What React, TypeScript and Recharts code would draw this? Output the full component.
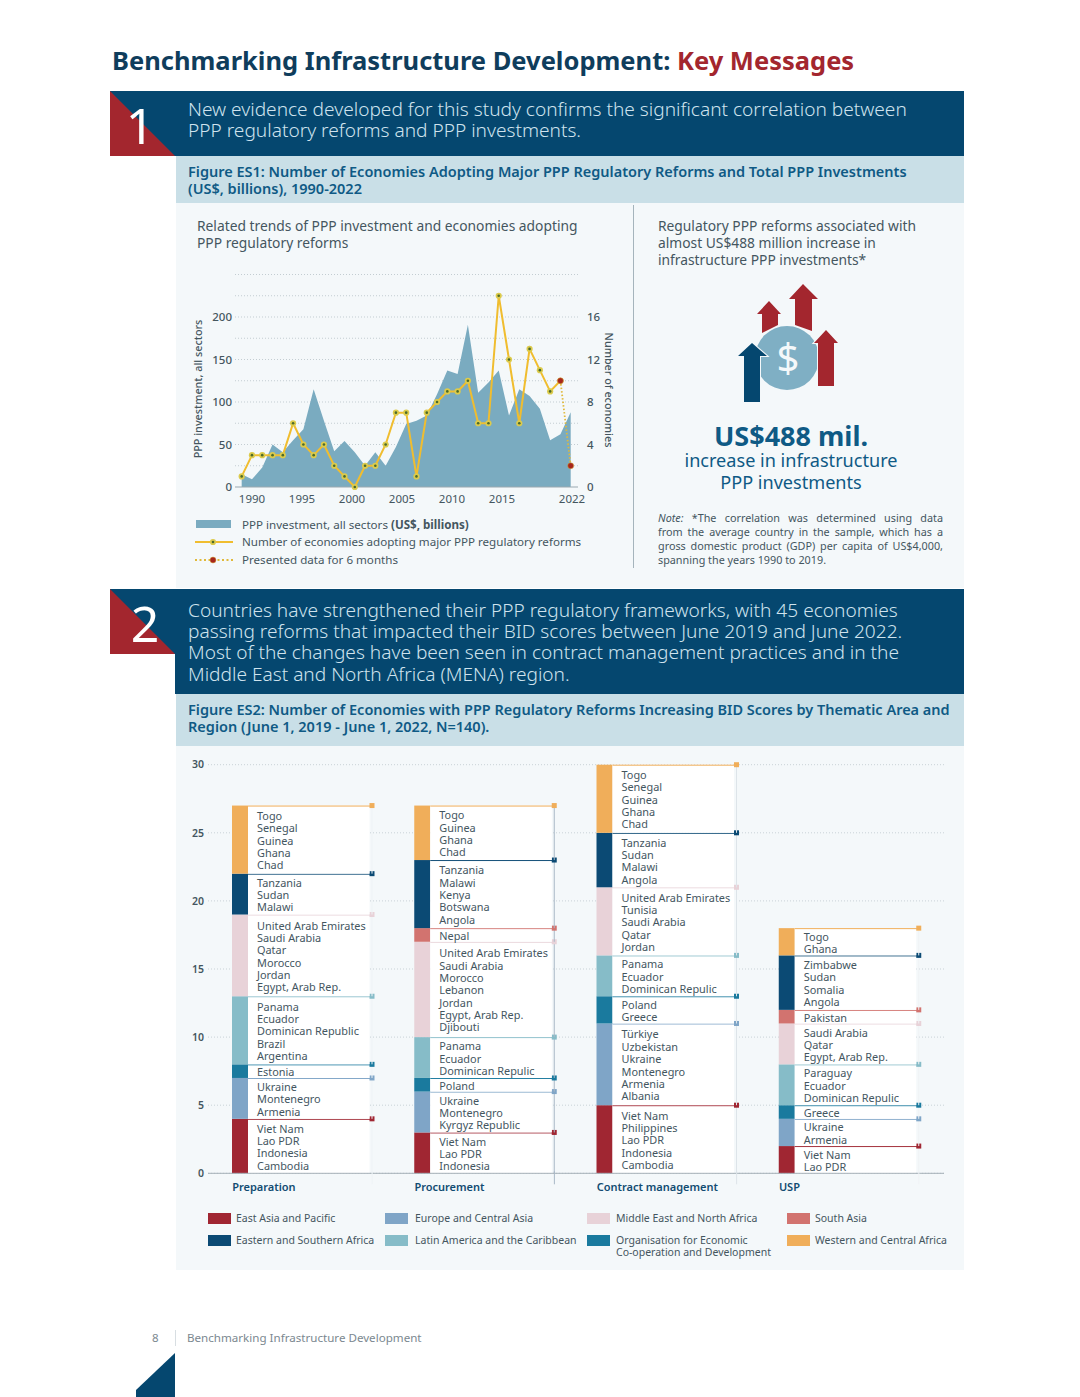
import React from 'react';
import {
  ComposedChart,
  BarChart,
  Area,
  Line,
  Bar,
  XAxis,
  YAxis,
  CartesianGrid,
} from 'recharts';

const FONT = '"Noto Sans", sans-serif';
const NAVY = '#05476f';
const RED = '#a3262e';
const TEXT = '#44565f';

// Figure ES1
const years = [
  1990, 1991, 1992, 1993, 1994, 1995, 1996, 1997, 1998, 1999, 2000, 2001, 2002, 2003, 2004, 2005, 2006,
  2007, 2008, 2009, 2010, 2011, 2012, 2013, 2014, 2015, 2016, 2017, 2018, 2019, 2020, 2021, 2022,
];
const investment = [
  15, 9, 23, 50, 41, 55, 68, 115, 78, 42, 54, 41, 25, 41, 25, 47, 74, 78, 84, 109, 137, 133, 191, 111,
  123, 137, 84, 115, 107, 92, 55, 62, 88,
];
const reforms = [
  1, 3, 3, 3, 3, 6, 4, 3, 4, 2, 1, 0, 2, 2, 4, 7, 7, 1, 7, 8, 9, 9, 10, 6, 6, 18, 12, 6, 13, 11, 9, 10,
  null,
];
const partialYear = [
  null, null, null, null, null, null, null, null, null, null, null, null, null, null, null, null, null,
  null, null, null, null, null, null, null, null, null, null, null, null, null, null, 10, 2,
];
const yearTicks = [1990, 1995, 2000, 2005, 2010, 2015, 2022];
const investmentTicks = [0, 50, 100, 150, 200];
const reformTicks = [0, 4, 8, 12, 16];
const gridValues = [25, 50, 75, 100, 125, 150, 175, 200, 225, 250];

const es1Data = years.map((year, i) => ({
  year,
  investment: investment[i],
  reforms: reforms[i],
  partialYear: partialYear[i],
}));

// Figure ES2, stages left to right
const stages = ['Preparation', 'Procurement', 'Contract management', 'USP'];
const stageTicks = [0, 5, 10, 15, 20, 25, 30];
const eastAsia = [4, 3, 5, 2];
const europe = [3, 3, 6, 2];
const oecd = [1, 1, 2, 1];
const latinAmerica = [5, 3, 3, 3];
const middleEast = [6, 7, 5, 3];
const southAsia = [0, 1, 0, 1];
const easternAfrica = [3, 5, 4, 4];
const westernAfrica = [5, 4, 5, 2];

const eastAsiaNames = [
  ['Viet Nam', 'Lao PDR', 'Indonesia', 'Cambodia'],
  ['Viet Nam', 'Lao PDR', 'Indonesia'],
  ['Viet Nam', 'Philippines', 'Lao PDR', 'Indonesia', 'Cambodia'],
  ['Viet Nam', 'Lao PDR'],
];
const europeNames = [
  ['Ukraine', 'Montenegro', 'Armenia'],
  ['Ukraine', 'Montenegro', 'Kyrgyz Republic'],
  ['Türkiye', 'Uzbekistan', 'Ukraine', 'Montenegro', 'Armenia', 'Albania'],
  ['Ukraine', 'Armenia'],
];
const oecdNames = [['Estonia'], ['Poland'], ['Poland', 'Greece'], ['Greece']];
const latinAmericaNames = [
  ['Panama', 'Ecuador', 'Dominican Republic', 'Brazil', 'Argentina'],
  ['Panama', 'Ecuador', 'Dominican Repulic'],
  ['Panama', 'Ecuador', 'Dominican Repulic'],
  ['Paraguay', 'Ecuador', 'Dominican Repulic'],
];
const middleEastNames = [
  ['United Arab Emirates', 'Saudi Arabia', 'Qatar', 'Morocco', 'Jordan', 'Egypt, Arab Rep.'],
  ['United Arab Emirates', 'Saudi Arabia', 'Morocco', 'Lebanon', 'Jordan', 'Egypt, Arab Rep.', 'Djibouti'],
  ['United Arab Emirates', 'Tunisia', 'Saudi Arabia', 'Qatar', 'Jordan'],
  ['Saudi Arabia', 'Qatar', 'Egypt, Arab Rep.'],
];
const southAsiaNames = [[], ['Nepal'], [], ['Pakistan']];
const easternAfricaNames = [
  ['Tanzania', 'Sudan', 'Malawi'],
  ['Tanzania', 'Malawi', 'Kenya', 'Botswana', 'Angola'],
  ['Tanzania', 'Sudan', 'Malawi', 'Angola'],
  ['Zimbabwe', 'Sudan', 'Somalia', 'Angola'],
];
const westernAfricaNames = [
  ['Togo', 'Senegal', 'Guinea', 'Ghana', 'Chad'],
  ['Togo', 'Guinea', 'Ghana', 'Chad'],
  ['Togo', 'Senegal', 'Guinea', 'Ghana', 'Chad'],
  ['Togo', 'Ghana'],
];

const es2Data = stages.map((stage, i) => ({
  stage,
  eastAsia: eastAsia[i],
  europe: europe[i],
  oecd: oecd[i],
  latinAmerica: latinAmerica[i],
  middleEast: middleEast[i],
  southAsia: southAsia[i],
  easternAfrica: easternAfrica[i],
  westernAfrica: westernAfrica[i],
}));

const regions = [
  { key: 'eastAsia', color: '#a02632', names: eastAsiaNames },
  { key: 'europe', color: '#7fa5c7', names: europeNames },
  { key: 'oecd', color: '#1a7a9e', names: oecdNames },
  { key: 'latinAmerica', color: '#86bcc8', names: latinAmericaNames },
  { key: 'middleEast', color: '#e8d2d8', names: middleEastNames },
  { key: 'southAsia', color: '#d2736f', names: southAsiaNames },
  { key: 'easternAfrica', color: '#0b4a74', names: easternAfricaNames },
  { key: 'westernAfrica', color: '#f0ae5a', names: westernAfricaNames },
];

const stageRules = ['#eef3f6', '#a9b8c6', '#dde4e9', '#f0f3f5'];

const legendItems = [
  { label: ['East Asia and Pacific'], color: '#a02632', x: 208, y: 1218, tx: 236 },
  { label: ['Europe and Central Asia'], color: '#7fa5c7', x: 385, y: 1218, tx: 415 },
  { label: ['Middle East and North Africa'], color: '#e8d2d8', x: 587, y: 1218, tx: 616 },
  { label: ['South Asia'], color: '#d2736f', x: 787, y: 1218, tx: 815 },
  { label: ['Eastern and Southern Africa'], color: '#0b4a74', x: 208, y: 1240, tx: 236 },
  { label: ['Latin America and the Caribbean'], color: '#86bcc8', x: 385, y: 1240, tx: 415 },
  { label: ['Organisation for Economic', 'Co-operation and Development'], color: '#1a7a9e', x: 587, y: 1240, tx: 616 },
  { label: ['Western and Central Africa'], color: '#f0ae5a', x: 787, y: 1240, tx: 815 },
];

const noteLines = [
  '*The correlation was determined using data',
  'from the average country in the sample, which has a',
  'gross domestic product (GDP) per capita of US$4,000,',
];

const Txt = ({ x, y, size, color = TEXT, weight = 400, center, style, children }: any) => (
  <div
    style={{
      position: 'absolute',
      left: x,
      top: y,
      fontSize: size,
      color,
      fontWeight: weight,
      whiteSpace: 'nowrap',
      lineHeight: 1,
      transform: center ? 'translate(-50%, -50%)' : 'translateY(-50%)',
      ...style,
    }}
  >
    {children}
  </div>
);

const YellowDot = ({ cx, cy }: any) => {
  if (cy == null) return null;
  return (
    <g>
      <circle cx={cx} cy={cy} r={3.1} fill="#dccb4c" />
      <circle cx={cx} cy={cy} r={1.3} fill="#4c6a2a" />
    </g>
  );
};

const RedDot = ({ cx, cy }: any) => {
  if (cy == null) return null;
  return <circle cx={cx} cy={cy} r={3} fill="#a6261c" stroke="#d9a636" strokeWidth={0.5} />;
};

// Label overwrites x, y and angle on its content, so these go under other names
const AxisTitle = ({ titleX, titleY, turn, title }: any) => (
  <text
    x={titleX}
    y={titleY}
    transform={`rotate(${turn} ${titleX} ${titleY})`}
    textAnchor="middle"
    dominantBaseline="central"
    fontSize={10.8}
    fontWeight={500}
    fill={TEXT}
    fontFamily={FONT}
  >
    {title}
  </text>
);

// one stacked segment: colour block, white panel with the country names, leader line and marker
const segmentShape = (color: string, names: string[][]) => (props: any) => {
  const { x, y, width, height, index } = props;
  if (!height) return null;
  const list = names[index] || [];
  const middle = y + height / 2 + 0.5;
  const lineGap = 12.35;
  return (
    <g>
      <rect x={x} y={y} width={16} height={height} fill={color} />
      <rect x={x + 16} y={y} width={width - 18.5} height={height} fill="#ffffff" />
      <line x1={x + width} x2={x + width} y1={y} y2={y + height} stroke={stageRules[index]} />
      <line x1={x + 16} x2={x + width} y1={y + 0.5} y2={y + 0.5} stroke={color} strokeWidth={1} />
      <rect x={x + width - 2.5} y={y - 2.5} width={5} height={5} fill={color} />
      {list.map((name, i) => (
        <text
          key={name}
          x={x + 25}
          y={middle + (i - (list.length - 1) / 2) * lineGap}
          dominantBaseline="central"
          fontSize={10.9}
          fill={TEXT}
          fontFamily={FONT}
        >
          {name}
        </text>
      ))}
    </g>
  );
};

const StageTick = ({ x, y, payload, index }: any) => (
  <g>
    <line x1={x + 70} x2={x + 70} y1={y - 2} y2={y + 11} stroke={stageRules[index]} />
    <text x={x - 70} y={y + 18} fontSize={11} fontWeight={600} fill="#124c72" fontFamily={FONT}>
      {payload.value}
    </text>
  </g>
);

const Es1Chart = () => (
  <ComposedChart
    width={440}
    height={260}
    data={es1Data}
    margin={{ top: 14.5, right: 0, bottom: 0, left: 0 }}
    style={{ position: 'absolute', left: 176, top: 260 }}
  >
    <CartesianGrid
      xAxisId="years"
      yAxisId="left"
      vertical={false}
      horizontalValues={gridValues}
      stroke="#c3cdd2"
      strokeDasharray="1 2"
    />
    <XAxis xAxisId="years" dataKey="year" type="number" domain={[1989.35, 2022.71]} allowDataOverflow hide />
    <XAxis
      xAxisId="labels"
      dataKey="year"
      type="number"
      domain={[1988.3, 2022.6]}
      allowDataOverflow
      ticks={yearTicks}
      interval={0}
      height={33}
      stroke="#9aa8b0"
      tickLine={false}
      tickSize={0}
      tickMargin={8}
      tick={{ fontSize: 11.5, fill: TEXT, fontFamily: FONT }}
    />
    <YAxis
      yAxisId="left"
      width={59}
      domain={[0, 250]}
      ticks={investmentTicks}
      interval={0}
      axisLine={false}
      tickLine={false}
      tickSize={0}
      tickMargin={3}
      tick={{ fontSize: 11.5, fill: TEXT, fontFamily: FONT, fontWeight: 500 }}
      label={<AxisTitle titleX={21} titleY={129} turn={-90} title="PPP investment, all sectors" />}
    />
    <YAxis
      yAxisId="right"
      orientation="right"
      width={38}
      domain={[0, 20]}
      ticks={reformTicks}
      interval={0}
      axisLine={false}
      tickLine={false}
      tickSize={0}
      tickMargin={9}
      tick={{ fontSize: 11.5, fill: TEXT, fontFamily: FONT, fontWeight: 500 }}
      label={<AxisTitle titleX={433} titleY={130} turn={90} title="Number of economies" />}
    />
    <Area
      xAxisId="years"
      yAxisId="left"
      dataKey="investment"
      type="linear"
      fill="#7aabc0"
      fillOpacity={1}
      stroke="none"
      isAnimationActive={false}
      dot={false}
      activeDot={false}
    />
    <Line
      xAxisId="years"
      yAxisId="right"
      dataKey="partialYear"
      type="linear"
      stroke="#e0b93a"
      strokeWidth={1.8}
      strokeDasharray="1.5 2"
      dot={false}
      activeDot={false}
      connectNulls={false}
      isAnimationActive={false}
    />
    <Line
      xAxisId="years"
      yAxisId="right"
      dataKey="reforms"
      type="linear"
      stroke="#f0bd2f"
      strokeWidth={2}
      dot={<YellowDot />}
      activeDot={false}
      connectNulls={false}
      isAnimationActive={false}
    />
    <Line
      xAxisId="years"
      yAxisId="right"
      dataKey="partialYear"
      type="linear"
      stroke="none"
      dot={<RedDot />}
      activeDot={false}
      legendType="none"
      isAnimationActive={false}
    />
  </ComposedChart>
);

const Es2Chart = () => (
  <BarChart
    width={768}
    height={450}
    data={es2Data}
    barSize={140}
    margin={{ top: 14.7, right: 0, bottom: 0, left: 0 }}
    style={{ position: 'absolute', left: 176, top: 750 }}
  >
    <CartesianGrid vertical={false} stroke="#c9d2d7" strokeDasharray="1 2" />
    <XAxis
      dataKey="stage"
      interval={0}
      height={26.7}
      stroke="#a4b0b7"
      padding={{ left: 3, right: 4 }}
      tickLine={false}
      tickSize={0}
      tickMargin={0}
      tick={<StageTick />}
    />
    <YAxis
      width={32}
      domain={[0, 30]}
      ticks={stageTicks}
      interval={0}
      axisLine={false}
      tickLine={false}
      tickSize={0}
      tickMargin={4}
      tick={{ fontSize: 10.5, fill: TEXT, fontFamily: FONT, fontWeight: 600 }}
    />
    {regions.map((r) => (
      <Bar
        key={r.key}
        dataKey={r.key}
        stackId="stage"
        fill={r.color}
        shape={segmentShape(r.color, r.names)}
        isAnimationActive={false}
      />
    ))}
  </BarChart>
);

const MoneyIcon = () => (
  <svg width={120} height={130} viewBox="730 280 120 130" style={{ position: 'absolute', left: 730, top: 280 }}>
    <circle cx={787} cy={358} r={32} fill="#7fafc4" />
    <text x={788} y={372} textAnchor="middle" fontSize={40} fill="#f4f8fa" fontFamily={FONT}>
      $
    </text>
    <g stroke="#f4f8fa" strokeWidth={2} paintOrder="stroke">
      <polygon points="803,284 818,299 812,299 812,331 795,325 795,299 789,299" fill={RED} />
      <polygon points="769,301 781,314 778,314 778,325 762,333 762,314 757,314" fill={RED} />
      <polygon points="826,330 838,343 834,343 834,386 818,386 818,343 814,343" fill={RED} />
      <polygon points="752,343 767,356 760,356 760,402 744,402 744,356 738,356" fill={NAVY} />
    </g>
  </svg>
);

const Band = ({ top, bottom, triBottom, digit, digitX, lines, lineStart }: any) => (
  <>
    <div style={{ position: 'absolute', left: 110, top, width: 854, height: triBottom - top, background: NAVY }} />
    <div style={{ position: 'absolute', left: 175, top, width: 789, height: bottom - top, background: NAVY }} />
    <svg width={65} height={65} style={{ position: 'absolute', left: 110, top }}>
      <polygon points="0,0 65,65 0,65" fill={RED} />
    </svg>
    <Txt x={digitX} y={top + 34} size={50} color="#ffffff" center style={{ fontWeight: 400 }}>
      {digit}
    </Txt>
    {lines.map((line: string, i: number) => (
      <Txt key={line} x={188} y={lineStart + i * 21.2} size={19.1} color="#cfe3ee" style={{ fontWeight: 300 }}>
        {line}
      </Txt>
    ))}
  </>
);

const FigureTitle = ({ top, height, lines }: any) => (
  <>
    <div style={{ position: 'absolute', left: 176, top, width: 788, height, background: '#c9dfe7' }} />
    {lines.map((line: string, i: number) => (
      <Txt key={line} x={188} y={top + 14.5 + i * 17} size={14.5} color="#0f5a85" weight={600}>
        {line}
      </Txt>
    ))}
  </>
);

export default function App() {
  return (
    <div
      style={{
        position: 'absolute',
        left: 0,
        top: 0,
        width: 1080,
        height: 1397,
        background: '#ffffff',
        fontFamily: FONT,
        overflow: 'hidden',
      }}
    >
      <Txt x={112} y={61} size={25.5} weight={700} color="#0f3d5c">
        Benchmarking Infrastructure Development: <span style={{ color: RED }}>Key Messages</span>
      </Txt>

      <Band
        top={91}
        bottom={156}
        triBottom={156}
        digit="1"
        digitX={140}
        lineStart={110}
        lines={[
          'New evidence developed for this study confirms the significant correlation between',
          'PPP regulatory reforms and PPP investments.',
        ]}
      />
      <FigureTitle
        top={156}
        height={47}
        lines={[
          'Figure ES1: Number of Economies Adopting Major PPP Regulatory Reforms and Total PPP Investments',
          '(US$, billions), 1990-2022',
        ]}
      />
      <div style={{ position: 'absolute', left: 176, top: 203, width: 788, height: 385, background: '#f4f8fa' }} />
      <div style={{ position: 'absolute', left: 633, top: 205, width: 1, height: 363, background: '#a5b4bc' }} />

      <Txt x={197} y={226} size={13.8}>Related trends of PPP investment and economies adopting</Txt>
      <Txt x={197} y={243} size={13.8}>PPP regulatory reforms</Txt>
      <Es1Chart />

      <div style={{ position: 'absolute', left: 196, top: 520, width: 35, height: 8, background: '#7aabc0' }} />
      <Txt x={242} y={525} size={11.6}>
        PPP investment, all sectors <b>(US$, billions)</b>
      </Txt>
      <svg width={40} height={50} style={{ position: 'absolute', left: 194, top: 530 }}>
        <line x1={1} x2={39} y1={12} y2={12} stroke="#f0bd2f" strokeWidth={2} />
        <YellowDot cx={19} cy={12} />
        <line x1={1} x2={39} y1={30} y2={30} stroke="#e0b93a" strokeWidth={2} strokeDasharray="2 2.5" />
        <RedDot cx={19} cy={30} />
      </svg>
      <Txt x={242} y={542} size={11.6}>Number of economies adopting major PPP regulatory reforms</Txt>
      <Txt x={242} y={560} size={11.6}>Presented data for 6 months</Txt>

      <Txt x={658} y={226} size={13.8}>Regulatory PPP reforms associated with</Txt>
      <Txt x={658} y={243} size={13.8}>almost US$488 million increase in</Txt>
      <Txt x={658} y={260} size={13.8}>infrastructure PPP investments*</Txt>
      <MoneyIcon />
      <Txt x={791} y={435} size={27} weight={700} color="#0f5a85" center>US$488 mil.</Txt>
      <Txt x={791} y={460} size={18.1} color="#0f5a85" center>increase in infrastructure</Txt>
      <Txt x={791} y={482} size={18.1} color="#0f5a85" center>PPP investments</Txt>
      <div
        style={{
          position: 'absolute',
          left: 658,
          top: 511,
          width: 285,
          fontSize: 10.8,
          lineHeight: '14px',
          color: TEXT,
        }}
      >
        {noteLines.map((line, i) => (
          <div key={line} style={{ textAlign: 'justify', textAlignLast: 'justify' }}>
            {i === 0 && <i>Note: </i>}
            {line}
          </div>
        ))}
        <div>spanning the years 1990 to 2019.</div>
      </div>

      <Band
        top={589}
        bottom={694}
        triBottom={654}
        digit="2"
        digitX={145}
        lineStart={611}
        lines={[
          'Countries have strengthened their PPP regulatory frameworks, with 45 economies',
          'passing reforms that impacted their BID scores between June 2019 and June 2022.',
          'Most of the changes have been seen in contract management practices and in the',
          'Middle East and North Africa (MENA) region.',
        ]}
      />
      <FigureTitle
        top={694}
        height={52}
        lines={[
          'Figure ES2: Number of Economies with PPP Regulatory Reforms Increasing BID Scores by Thematic Area and',
          'Region (June 1, 2019 - June 1, 2022, N=140).',
        ]}
      />
      <div style={{ position: 'absolute', left: 176, top: 746, width: 788, height: 524, background: '#f4f8fa' }} />
      <Es2Chart />

      {legendItems.map((item) => (
        <React.Fragment key={item.label[0]}>
          <div
            style={{ position: 'absolute', left: item.x, top: item.y - 5, width: 23, height: 10.5, background: item.color }}
          />
          {item.label.map((line, i) => (
            <Txt key={line} x={item.tx} y={item.y + i * 12} size={10.5}>
              {line}
            </Txt>
          ))}
        </React.Fragment>
      ))}

      <Txt x={152} y={1338} size={11.5} color="#7b8890">8</Txt>
      <div style={{ position: 'absolute', left: 175, top: 1330, width: 1, height: 16, background: '#d8dee2' }} />
      <Txt x={187} y={1338} size={11.6} color="#7b8890">Benchmarking Infrastructure Development</Txt>
      <svg width={40} height={46} style={{ position: 'absolute', left: 136, top: 1352 }}>
        <polygon points="0,38 39,1 39,45 0,45" fill={NAVY} />
      </svg>
    </div>
  );
}
